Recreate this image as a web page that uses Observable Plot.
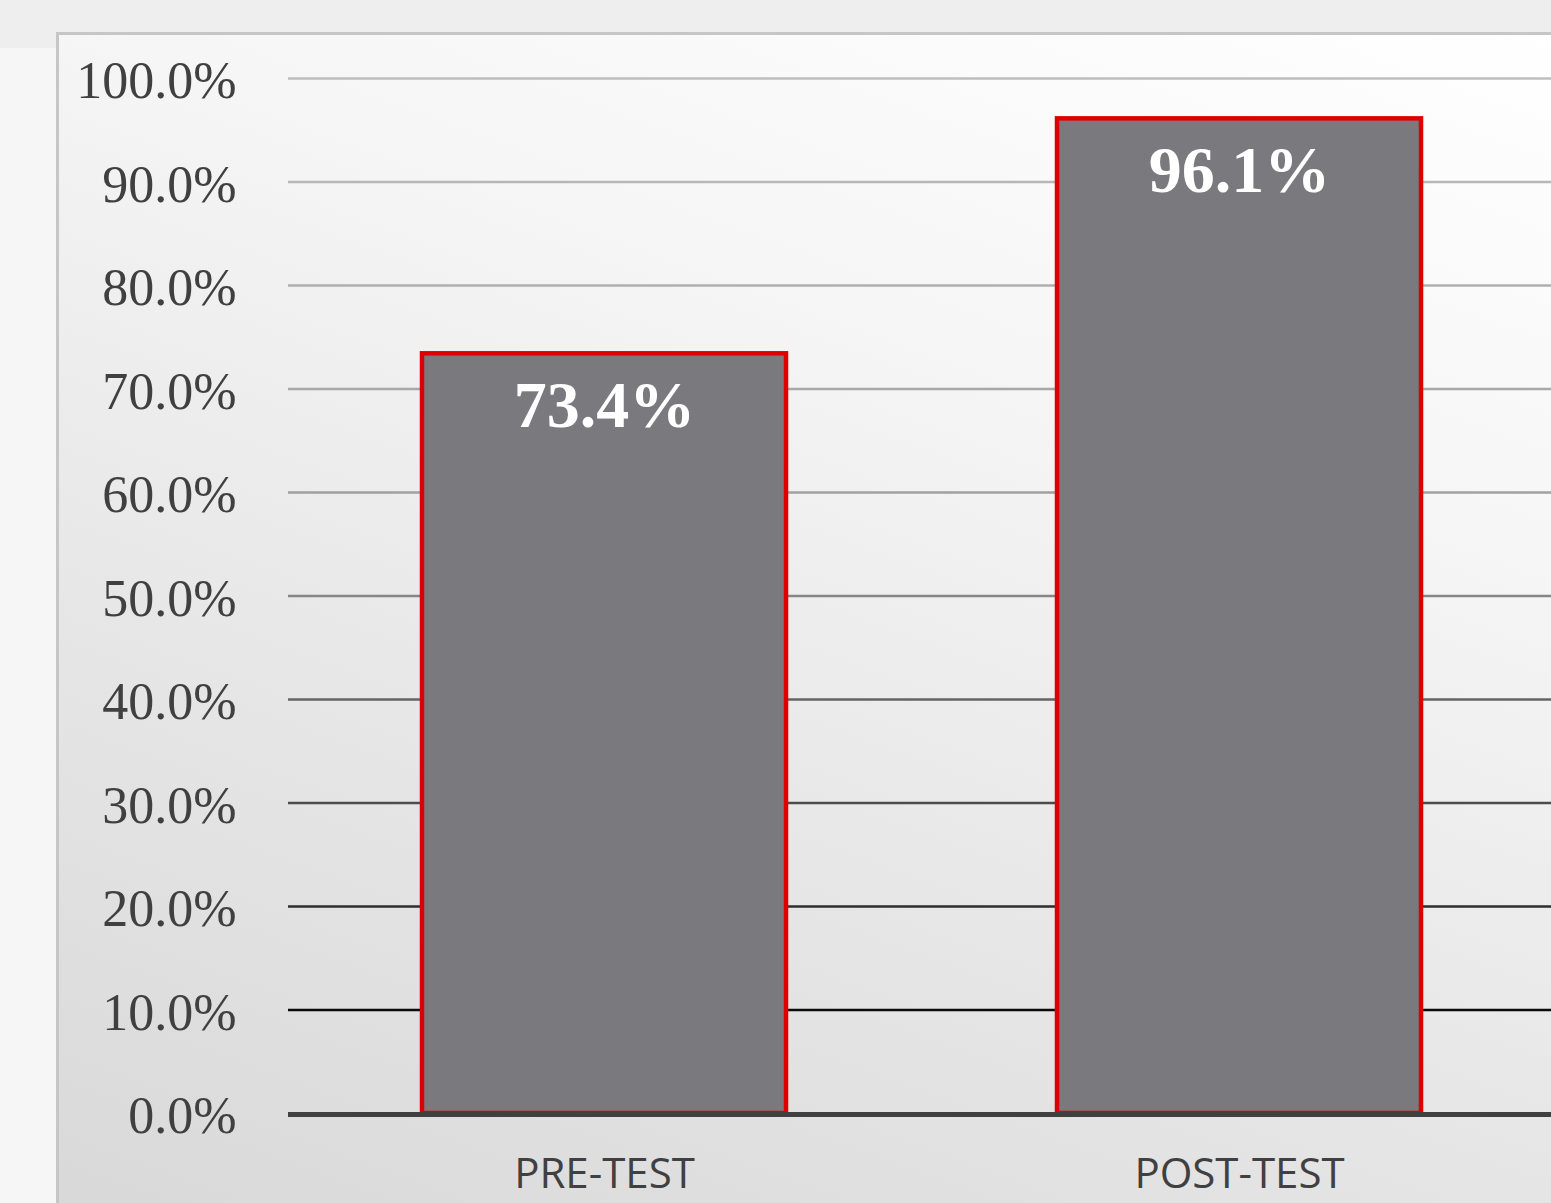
<!DOCTYPE html>
<html>
<head>
<meta charset="utf-8">
<script src="https://cdn.jsdelivr.net/npm/d3@7"></script>
<script src="https://cdn.jsdelivr.net/npm/@observablehq/plot@0.6"></script>
<style>
  html, body { margin: 0; padding: 0; width: 1551px; height: 1203px; overflow: hidden; background: #eeeeee; }
  #strip { position: absolute; left: 0; top: 48px; width: 56px; height: 1155px; background: #f6f6f6; }
  #panel { position: absolute; left: 56px; top: 32px; width: 1520px; height: 1200px;
           border-left: 3px solid #c6c6c6; border-top: 3px solid #c6c6c6;
           background: linear-gradient(200deg, #ffffff 0%, #f6f6f6 30%, #e6e6e6 65%, #d8d8d8 100%); }
  #chart { position: absolute; left: 0; top: 0; }
</style>
</head>
<body>
<div id="strip"></div>
<div id="panel"></div>
<div id="chart"></div>
<script>
const categories = ["PRE-TEST", "POST-TEST"];
const values = [0.734, 0.961];
const yTicks = [0, 0.1, 0.2, 0.3, 0.4, 0.5, 0.6, 0.7, 0.8, 0.9, 1.0];

const data = categories.map((c, i) => ({category: c, value: values[i]}));
const gridColor = d3.scaleLinear()
  .domain([0.1, 0.2, 0.3, 0.4, 0.5, 0.6, 1.0])
  .range(["#0a0a0a", "#2e2e2e", "#4c4c4c", "#646464", "#868686", "#a0a0a0", "#bebebe"]);

const chart = Plot.plot({
  width: 1551,
  height: 1203,
  marginLeft: 288,
  marginRight: 0,
  marginTop: 78,
  marginBottom: 90,
  style: {background: "transparent", color: "#404040"},
  x: {domain: categories, range: [286, 1556], paddingInner: 0.4268, paddingOuter: 0.2134, align: 0.5, label: null},
  y: {domain: [0, 1], label: null},
  marks: [
    Plot.ruleY(yTicks.filter(d => d > 0), {stroke: d => gridColor(d), strokeWidth: 2.5}),
    Plot.barY(data, {x: "category", y: "value", fill: "#7a7a7e", stroke: "#dd0000", strokeWidth: 4.5, inset: 0}),
    Plot.ruleY([0], {stroke: "#404040", strokeWidth: 5, dy: 1}),
    Plot.text(data, {x: "category", y: "value", text: d => d3.format(".1%")(d.value), fill: "white",
      fontFamily: "Liberation Serif", fontWeight: "bold", fontSize: 66, dy: 52}),
    Plot.axisY({ticks: yTicks, tickFormat: d3.format(".1%"), tickSize: 0, tickPadding: 52,
      fontFamily: "Liberation Serif", fontSize: 52, dy: 3}),
    Plot.axisX({tickSize: 0, tickPadding: 45, fontFamily: "Open Sans", fontSize: 42})
  ]
});
document.getElementById("chart").appendChild(chart);
</script>
</body>
</html>
